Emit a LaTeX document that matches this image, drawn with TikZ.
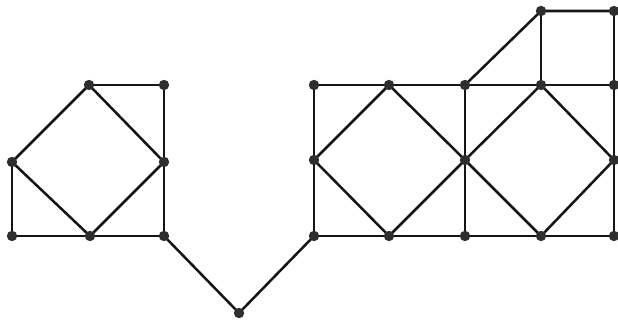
\documentclass[tikz,border=0pt]{standalone}
\definecolor{graphedge}{HTML}{151515}
\definecolor{graphvertex}{HTML}{2E2E2E}

\begin{document}
\begin{tikzpicture}[
  x=0.75pt,
  y=-0.75pt,
  line join=round,
  edge/.style={draw=graphedge,line width=1.9pt},
  vertex/.style={fill=graphvertex}
]
  % Match the scanned frame.
  \useasboundingbox (0,0) rectangle (618,323);

  % Left block: a diamond in a square with its top-left corner missing.
  \coordinate (la) at (89,85);
  \coordinate (lb) at (164,85);
  \coordinate (lc) at (12,162);
  \coordinate (ld) at (164,162);
  \coordinate (le) at (12,236);
  \coordinate (lf) at (90,236);
  \coordinate (lg) at (164,236);

  % Lowest vertex joining the two blocks.
  \coordinate (bot) at (239,313);

  % Right block: two squares with inscribed diamonds plus the upper box.
  \coordinate (ta) at (314,85);
  \coordinate (tb) at (389,85);
  \coordinate (tc) at (465,85);
  \coordinate (td) at (541,85);
  \coordinate (te) at (614,85);
  \coordinate (ma) at (314,160);
  \coordinate (mc) at (465,160);
  \coordinate (me) at (614,160);
  \coordinate (ba) at (314,236);
  \coordinate (bb) at (389,236);
  \coordinate (bc) at (465,236);
  \coordinate (bd) at (541,236);
  \coordinate (be) at (614,236);
  \coordinate (tf) at (541,11);
  \coordinate (tg) at (614,11);

  % Left block edges.
  \draw[edge] (la) -- (lb) -- (ld) -- (lg) -- (lf) -- (le) -- (lc);
  \draw[edge] (la) -- (lc) -- (lf) -- (ld) -- cycle;

  % Path through the bottom vertex.
  \draw[edge] (lg) -- (bot) -- (ba);

  % Right block frame and verticals.
  \draw[edge] (ta) -- (tb) -- (tc) -- (td) -- (te);
  \draw[edge] (ba) -- (bb) -- (bc) -- (bd) -- (be);
  \draw[edge] (ta) -- (ma) -- (ba);
  \draw[edge] (tc) -- (mc) -- (bc);
  \draw[edge] (tg) -- (te) -- (me) -- (be);
  \draw[edge] (tc) -- (tf) -- (tg);
  \draw[edge] (tf) -- (td);

  % Inscribed diamonds.
  \draw[edge] (tb) -- (ma) -- (bb) -- (mc) -- cycle;
  \draw[edge] (td) -- (mc) -- (bd) -- (me) -- cycle;

  % Vertices on top of the edges.
  \foreach \p in {la,lb,lc,ld,le,lf,lg,bot,ta,tb,tc,td,te,ma,mc,me,ba,bb,bc,bd,be,tf,tg} {
    \fill[vertex] (\p) circle[radius=5.2];
  }
\end{tikzpicture}
\end{document}
